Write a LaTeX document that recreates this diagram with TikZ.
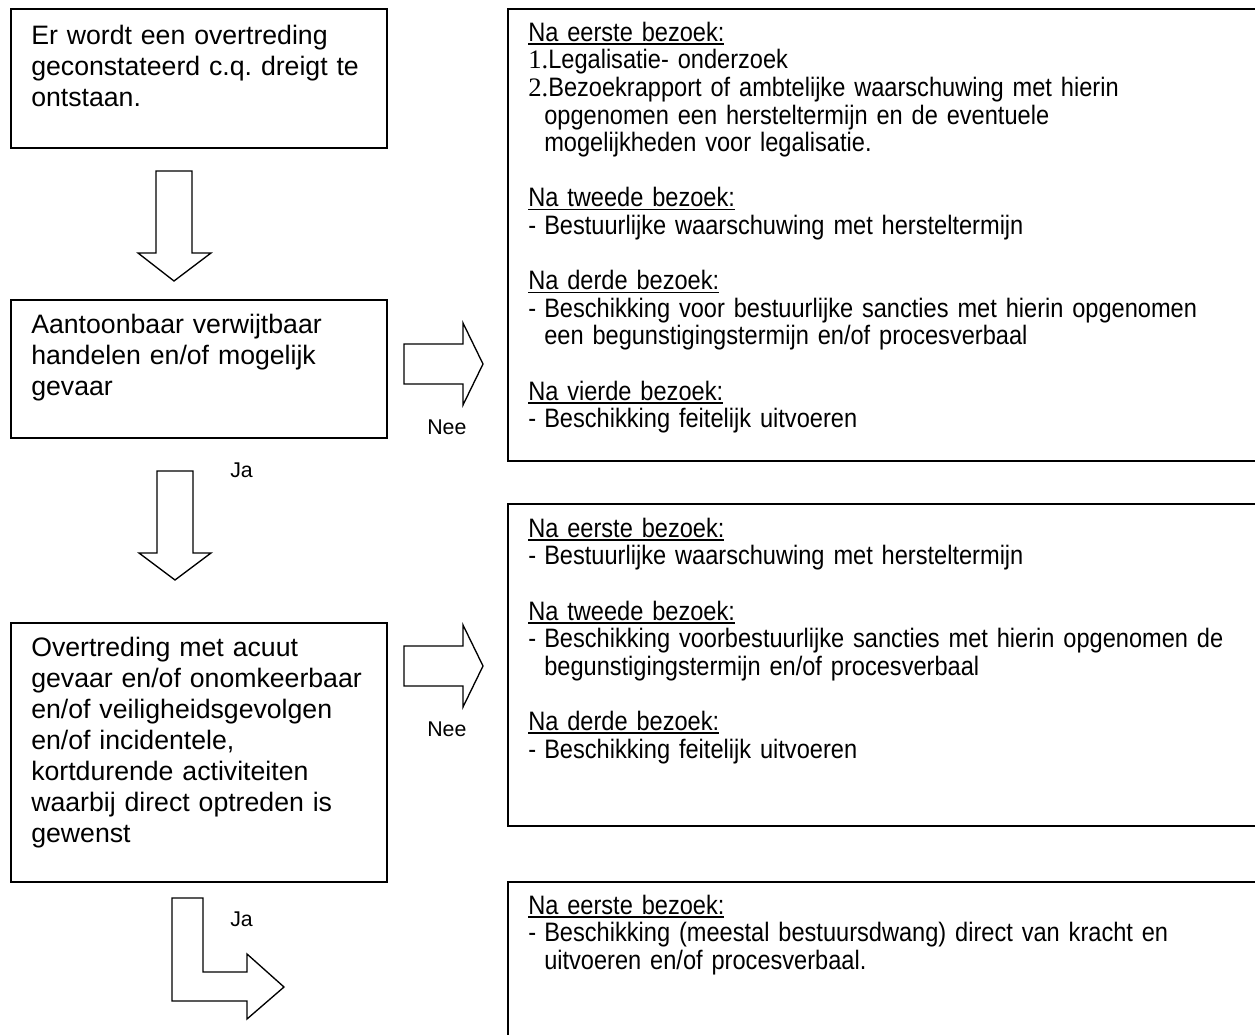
\documentclass[tikz,border=0pt]{standalone}
\usepackage{fontspec}
\setmainfont{Liberation Sans}
\newfontfamily\narrowfont[FakeStretch=0.885]{Liberation Sans}
\newfontfamily\numfont{Liberation Serif}
\frenchspacing
\newcommand\myul[1]{\leavevmode\setbox0\hbox{#1}\rlap{\rule[-2.6pt]{\wd0}{1.1pt}}\box0}
\newcommand\dashitem{\makebox[12pt][l]{-}}
\newcommand\numitem[1]{{\numfont #1.}}
\newcommand\cont{\hspace*{12pt}}
\newcommand\firststrut{\rule{0pt}{16pt}}
\begin{document}
\begin{tikzpicture}[x=0.75pt,y=-0.75pt,
  box/.style={draw, line width=1.5pt, inner sep=0pt, anchor=north west},
  blockarrow/.style={draw, line width=1pt, line join=miter},
  lefttext/.style={anchor=north west, inner sep=0pt, align=left, text width=400pt,
    font=\fontsize{20pt}{23.25pt}\selectfont\frenchspacing},
  righttext/.style={anchor=north west, inner sep=0pt, align=left, text width=700pt,
    font=\narrowfont\fontsize{20pt}{20.7pt}\selectfont\frenchspacing},
  lbl/.style={anchor=base west, inner sep=0pt, font=\fontsize{16pt}{19pt}\selectfont}]
\useasboundingbox (0,0) rectangle (1255,1034);

% left boxes
\node[box, minimum width=282pt, minimum height=104.25pt] (A) at (10,8) {};
\node[box, minimum width=282pt, minimum height=103.5pt] (B) at (10,299) {};
\node[box, minimum width=282pt, minimum height=194.25pt] (C) at (10,622) {};

% right boxes
\node[box, minimum width=570pt, minimum height=339pt] (R1) at (507,8) {};
\node[box, minimum width=570pt, minimum height=241.5pt] (R2) at (507,503) {};
\node[box, minimum width=570pt, minimum height=130pt] (R3) at (507,881) {};

% left texts
\node[lefttext] (tA) at (31,22.67) {\firststrut Er wordt een overtreding\\
geconstateerd c.q. dreigt te\\
ontstaan.};
\node[lefttext] (tB) at (31,311.67) {\firststrut Aantoonbaar verwijtbaar\\
handelen en/of mogelijk\\
gevaar};
\node[lefttext] (tC) at (31,634.67) {\firststrut Overtreding met acuut\\
gevaar en/of onomkeerbaar\\
en/of veiligheidsgevolgen\\
en/of incidentele,\\
kortdurende activiteiten\\
waarbij direct optreden is\\
gewenst};

% right texts
\node[righttext] (tR1) at (528,19.67) {\firststrut\myul{Na eerste bezoek:}\\
\numitem{1}Legalisatie- onderzoek\\
\numitem{2}Bezoekrapport of ambtelijke waarschuwing met hierin\\
\cont opgenomen een hersteltermijn en de eventuele\\
\cont mogelijkheden voor legalisatie.\\[20.7pt]
\myul{Na tweede bezoek:}\\
\dashitem Bestuurlijke waarschuwing met hersteltermijn\\[20.7pt]
\myul{Na derde bezoek:}\\
\dashitem Beschikking voor bestuurlijke sancties met hierin opgenomen\\
\cont een begunstigingstermijn en/of procesverbaal\\[20.7pt]
\myul{Na vierde bezoek:}\\
\dashitem Beschikking feitelijk uitvoeren};

\node[righttext] (tR2) at (528,515.67) {\firststrut\myul{Na eerste bezoek:}\\
\dashitem Bestuurlijke waarschuwing met hersteltermijn\\[20.7pt]
\myul{Na tweede bezoek:}\\
\dashitem Beschikking voorbestuurlijke sancties met hierin opgenomen de\\
\cont begunstigingstermijn en/of procesverbaal\\[20.7pt]
\myul{Na derde bezoek:}\\
\dashitem Beschikking feitelijk uitvoeren};

\node[righttext] (tR3) at (528,892.67) {\firststrut\myul{Na eerste bezoek:}\\
\dashitem Beschikking (meestal bestuursdwang) direct van kracht en\\
\cont uitvoeren en/of procesverbaal.};

% block arrows
\draw[blockarrow] (156,171) -- (192,171) -- (192,253) -- (211,253) -- (174,281) -- (138,253) -- (156,253) -- cycle;
\draw[blockarrow] (157,471) -- (193,471) -- (193,553) -- (211,553) -- (175,580) -- (139,553) -- (157,553) -- cycle;
\draw[blockarrow] (404,344) -- (463,344) -- (463,323) -- (483,364) -- (463,405) -- (463,384) -- (404,384) -- cycle;
\draw[blockarrow] (404,646) -- (463,646) -- (463,625) -- (483,666) -- (463,707) -- (463,686) -- (404,686) -- cycle;
\draw[blockarrow] (172,898) -- (203,898) -- (203,972) -- (247,972) -- (247,954) -- (284,987) -- (247,1019) -- (247,1001) -- (172,1001) -- cycle;

% labels
\node[lbl] (ja1) at (230,477) {Ja};
\node[lbl] (nee1) at (427,434) {Nee};
\node[lbl] (nee2) at (427,736) {Nee};
\node[lbl] (ja2) at (230,926) {Ja};
\end{tikzpicture}
\end{document}
